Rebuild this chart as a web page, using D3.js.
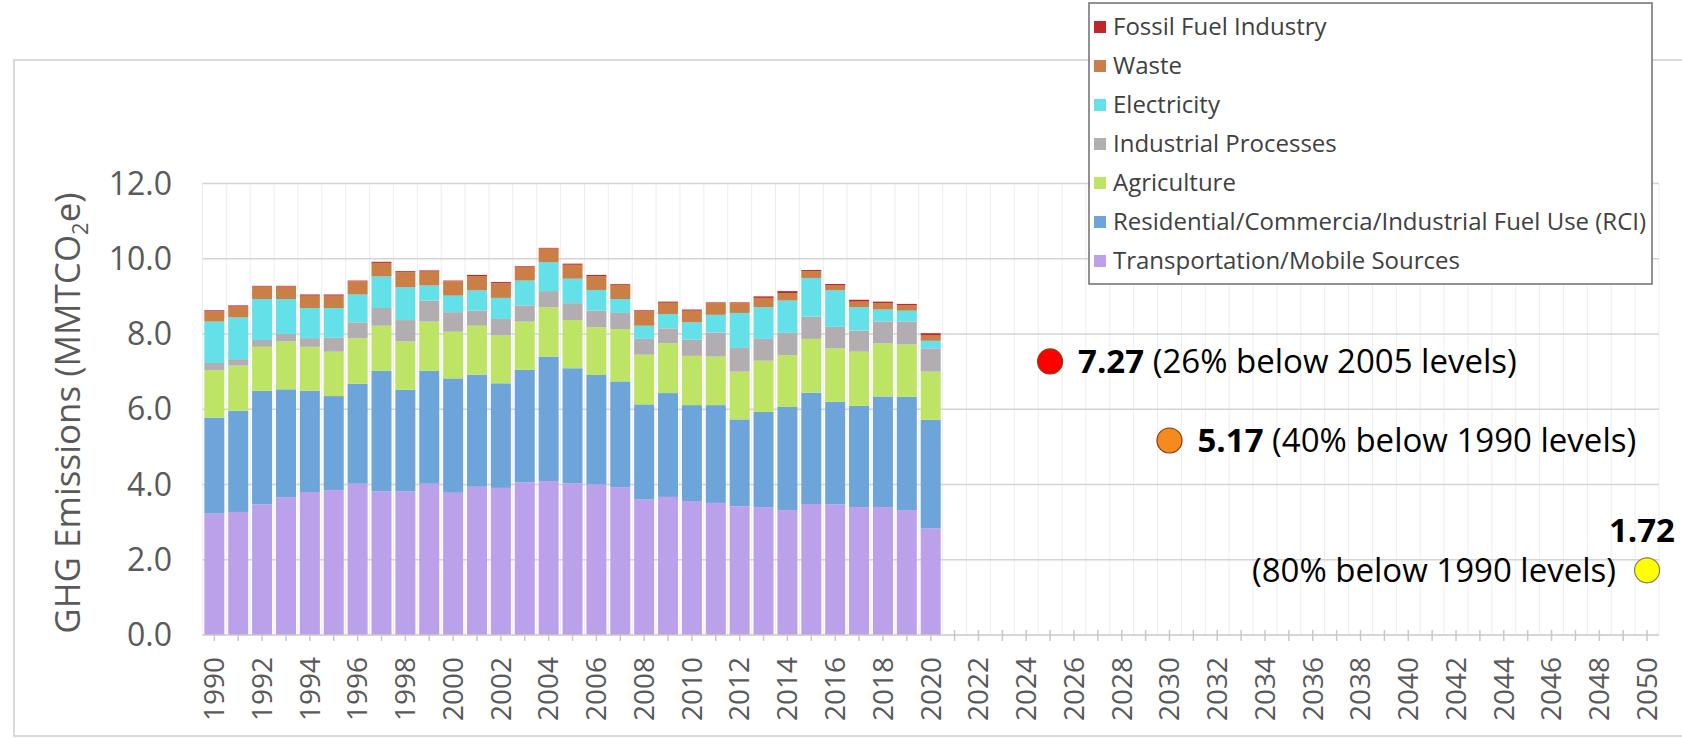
<!DOCTYPE html>
<html>
<head>
<meta charset="utf-8">
<script src="https://cdn.jsdelivr.net/npm/d3@7"></script>
<style>
  html, body { margin: 0; padding: 0; background: #fff; }
  svg { display: block; font-family: "Open Sans", sans-serif; }
</style>
</head>
<body>
<svg id="chart" width="1682" height="738"></svg>
<script>
// ---------- DATA ----------
const dataYears = d3.range(1990, 2021);          // years with inventory data
const axisYears = d3.range(1990, 2051);          // full category axis
const tickYears = d3.range(1990, 2051, 2);       // labelled years
const yTicks = [0, 2, 4, 6, 8, 10, 12];

const transportation = [3.23,3.27,3.47,3.66,3.80,3.85,4.02,3.82,3.82,4.02,3.78,3.94,3.91,4.06,4.09,4.03,4.00,3.93,3.60,3.67,3.56,3.51,3.42,3.40,3.32,3.48,3.47,3.40,3.40,3.32,2.83];
const rci            = [2.55,2.69,3.02,2.87,2.69,2.50,2.66,3.20,2.70,3.00,3.04,2.98,2.78,2.99,3.31,3.06,2.91,2.81,2.53,2.76,2.55,2.60,2.31,2.53,2.74,2.96,2.73,2.69,2.94,3.01,2.89];
const agriculture    = [1.26,1.20,1.17,1.27,1.17,1.18,1.21,1.20,1.28,1.31,1.24,1.30,1.27,1.28,1.31,1.28,1.27,1.39,1.32,1.32,1.31,1.29,1.27,1.36,1.38,1.43,1.42,1.44,1.41,1.39,1.28];
const industrial     = [0.19,0.17,0.18,0.20,0.23,0.37,0.42,0.47,0.57,0.56,0.52,0.40,0.44,0.43,0.43,0.45,0.44,0.43,0.42,0.40,0.43,0.64,0.63,0.58,0.59,0.59,0.57,0.56,0.58,0.61,0.62];
const electricity    = [1.10,1.11,1.09,0.93,0.80,0.79,0.74,0.84,0.87,0.40,0.44,0.54,0.56,0.66,0.77,0.65,0.55,0.37,0.35,0.38,0.46,0.47,0.93,0.84,0.86,1.03,0.97,0.62,0.32,0.29,0.20];
const waste          = [0.27,0.29,0.33,0.33,0.33,0.33,0.35,0.36,0.40,0.37,0.38,0.38,0.39,0.36,0.36,0.37,0.37,0.38,0.38,0.30,0.31,0.31,0.26,0.25,0.20,0.18,0.13,0.15,0.17,0.14,0.14];
const fossilFuel     = [0.03,0.03,0.02,0.02,0.03,0.03,0.02,0.03,0.03,0.03,0.02,0.03,0.03,0.02,0.02,0.03,0.03,0.02,0.03,0.03,0.03,0.02,0.02,0.04,0.05,0.03,0.04,0.05,0.04,0.04,0.06];

const seriesNames  = ["Transportation/Mobile Sources","Residential/Commercia/Industrial Fuel Use (RCI)","Agriculture","Industrial Processes","Electricity","Waste","Fossil Fuel Industry"];
const seriesColors = ["#bba1ea","#6da5da","#bde464","#b1adb0","#64e0e8","#c97f45","#c0272d"];

const targetYears  = [2025, 2030, 2050];
const targetValues = [7.27, 5.17, 1.72];
const targetNotes  = ["(26% below 2005 levels)","(40% below 1990 levels)","(80% below 1990 levels)"];
const targetColors = ["#ff0000","#f58a1f","#ffff00"];

// ---------- BUILD ----------
const seriesArrays = [transportation, rci, agriculture, industrial, electricity, waste, fossilFuel];
const rows = dataYears.map((y, i) => {
  const r = { year: y };
  seriesNames.forEach((n, k) => r[n] = seriesArrays[k][i]);
  return r;
});
const stacked = d3.stack().keys(seriesNames)(rows);

const svg = d3.select("#chart");

// outer chart frame
svg.append("rect").attr("x", 14).attr("y", 60).attr("width", 1700).attr("height", 676)
  .attr("fill", "#fff").attr("stroke", "#d9d9d9").attr("stroke-width", 2);

const x = d3.scaleBand().domain(axisYears).range([202.4, 1659]).paddingInner(0.162).paddingOuter(0.081);
const y = d3.scaleLinear().domain([0, 12]).range([635, 183.5]);
const step = x.step();
const x0 = x.range()[0];

// vertical gridlines at category boundaries
svg.append("g").selectAll("line").data(d3.range(0, axisYears.length + 1)).join("line")
  .attr("x1", k => x0 + k * step).attr("x2", k => x0 + k * step)
  .attr("y1", y(12)).attr("y2", y(0))
  .attr("stroke", "#ededed").attr("stroke-width", 1);

// horizontal gridlines
svg.append("g").selectAll("line").data(yTicks.filter(t => t > 0)).join("line")
  .attr("x1", x0).attr("x2", x0 + step * axisYears.length)
  .attr("y1", d => y(d)).attr("y2", d => y(d))
  .attr("stroke", "#d4d4d4").attr("stroke-width", 1.5);

// tick marks at category centers
svg.append("g").selectAll("line").data(axisYears).join("line")
  .attr("x1", d => x(d) + x.bandwidth() / 2).attr("x2", d => x(d) + x.bandwidth() / 2)
  .attr("y1", y(0) - 5).attr("y2", y(0) + 6)
  .attr("stroke", "#c8c8c8").attr("stroke-width", 1.5);

// bars
svg.append("g").selectAll("g").data(stacked).join("g")
  .attr("fill", (d, i) => seriesColors[i])
  .selectAll("rect").data(d => d).join("rect")
  .attr("x", d => x(d.data.year))
  .attr("width", x.bandwidth())
  .attr("y", d => y(d[1]))
  .attr("height", d => Math.max(0, y(d[0]) - y(d[1])));

// x axis line
svg.append("line").attr("x1", x0).attr("x2", x0 + step * axisYears.length)
  .attr("y1", y(0)).attr("y2", y(0)).attr("stroke", "#c8c8c8").attr("stroke-width", 1.5);

// y tick labels
svg.append("g").selectAll("text").data(yTicks).join("text")
  .attr("x", 172).attr("y", d => y(d)).attr("dy", "0.35em")
  .attr("text-anchor", "end").attr("font-size", 32).attr("fill", "#595959")
  .text(d => d.toFixed(1));

// x tick labels
svg.append("g").selectAll("text").data(tickYears).join("text")
  .attr("transform", d => `translate(${x(d) + x.bandwidth() / 2},657) rotate(-90)`)
  .attr("dy", "0.35em").attr("text-anchor", "end")
  .attr("font-size", 28).attr("fill", "#595959")
  .text(d => d);

// y axis title
const yt = svg.append("text")
  .attr("transform", `translate(68,413) rotate(-90)`)
  .attr("text-anchor", "middle").attr("dy", "0.35em")
  .attr("font-size", 35).attr("fill", "#595959");
yt.append("tspan").text("GHG Emissions (MMTCO");
yt.append("tspan").attr("font-size", 22).attr("dy", 8).text("2");
yt.append("tspan").attr("dy", -8).text("e)");

// target markers
const cx = yr => x(yr) + x.bandwidth() / 2;
svg.append("g").selectAll("circle").data(targetYears).join("circle")
  .attr("cx", d => cx(d)).attr("cy", (d, i) => y(targetValues[i]))
  .attr("r", 12.5)
  .attr("fill", (d, i) => targetColors[i])
  .attr("stroke", (d, i) => i === 2 ? "#7f7f60" : "#8a3a10").attr("stroke-width", 1.2);

// target labels (first two inline)
[0, 1].forEach(i => {
  const t = svg.append("text")
    .attr("x", cx(targetYears[i]) + 28).attr("y", y(targetValues[i])).attr("dy", "0.35em")
    .attr("font-size", 33).attr("fill", "#000");
  t.append("tspan").attr("font-weight", "bold").text(targetValues[i].toFixed(2));
  t.append("tspan").text(" " + targetNotes[i]);
});
// third label: value above, note to the left
svg.append("text").attr("x", 1675).attr("y", y(targetValues[2]) - 40).attr("dy", "0.35em")
  .attr("text-anchor", "end").attr("font-size", 33).attr("font-weight", "bold").attr("fill", "#000")
  .text(targetValues[2].toFixed(2));
svg.append("text").attr("x", 1616).attr("y", y(targetValues[2])).attr("dy", "0.35em")
  .attr("text-anchor", "end").attr("font-size", 33).attr("fill", "#000")
  .text(targetNotes[2]);

// legend
const lg = svg.append("g");
lg.append("rect").attr("x", 1089).attr("y", 3).attr("width", 563).attr("height", 281)
  .attr("fill", "#fff").attr("stroke", "#6e6e6e").attr("stroke-width", 1.5);
const legendOrder = d3.range(seriesNames.length).reverse();
legendOrder.forEach((k, j) => {
  const cy = 27 + j * 39;
  lg.append("rect").attr("x", 1094).attr("y", cy - 6).attr("width", 12).attr("height", 12)
    .attr("fill", seriesColors[k]);
  lg.append("text").attr("x", 1113).attr("y", cy).attr("dy", "0.35em")
    .attr("font-size", 24).attr("fill", "#404040").text(seriesNames[k]);
});
</script>
</body>
</html>
